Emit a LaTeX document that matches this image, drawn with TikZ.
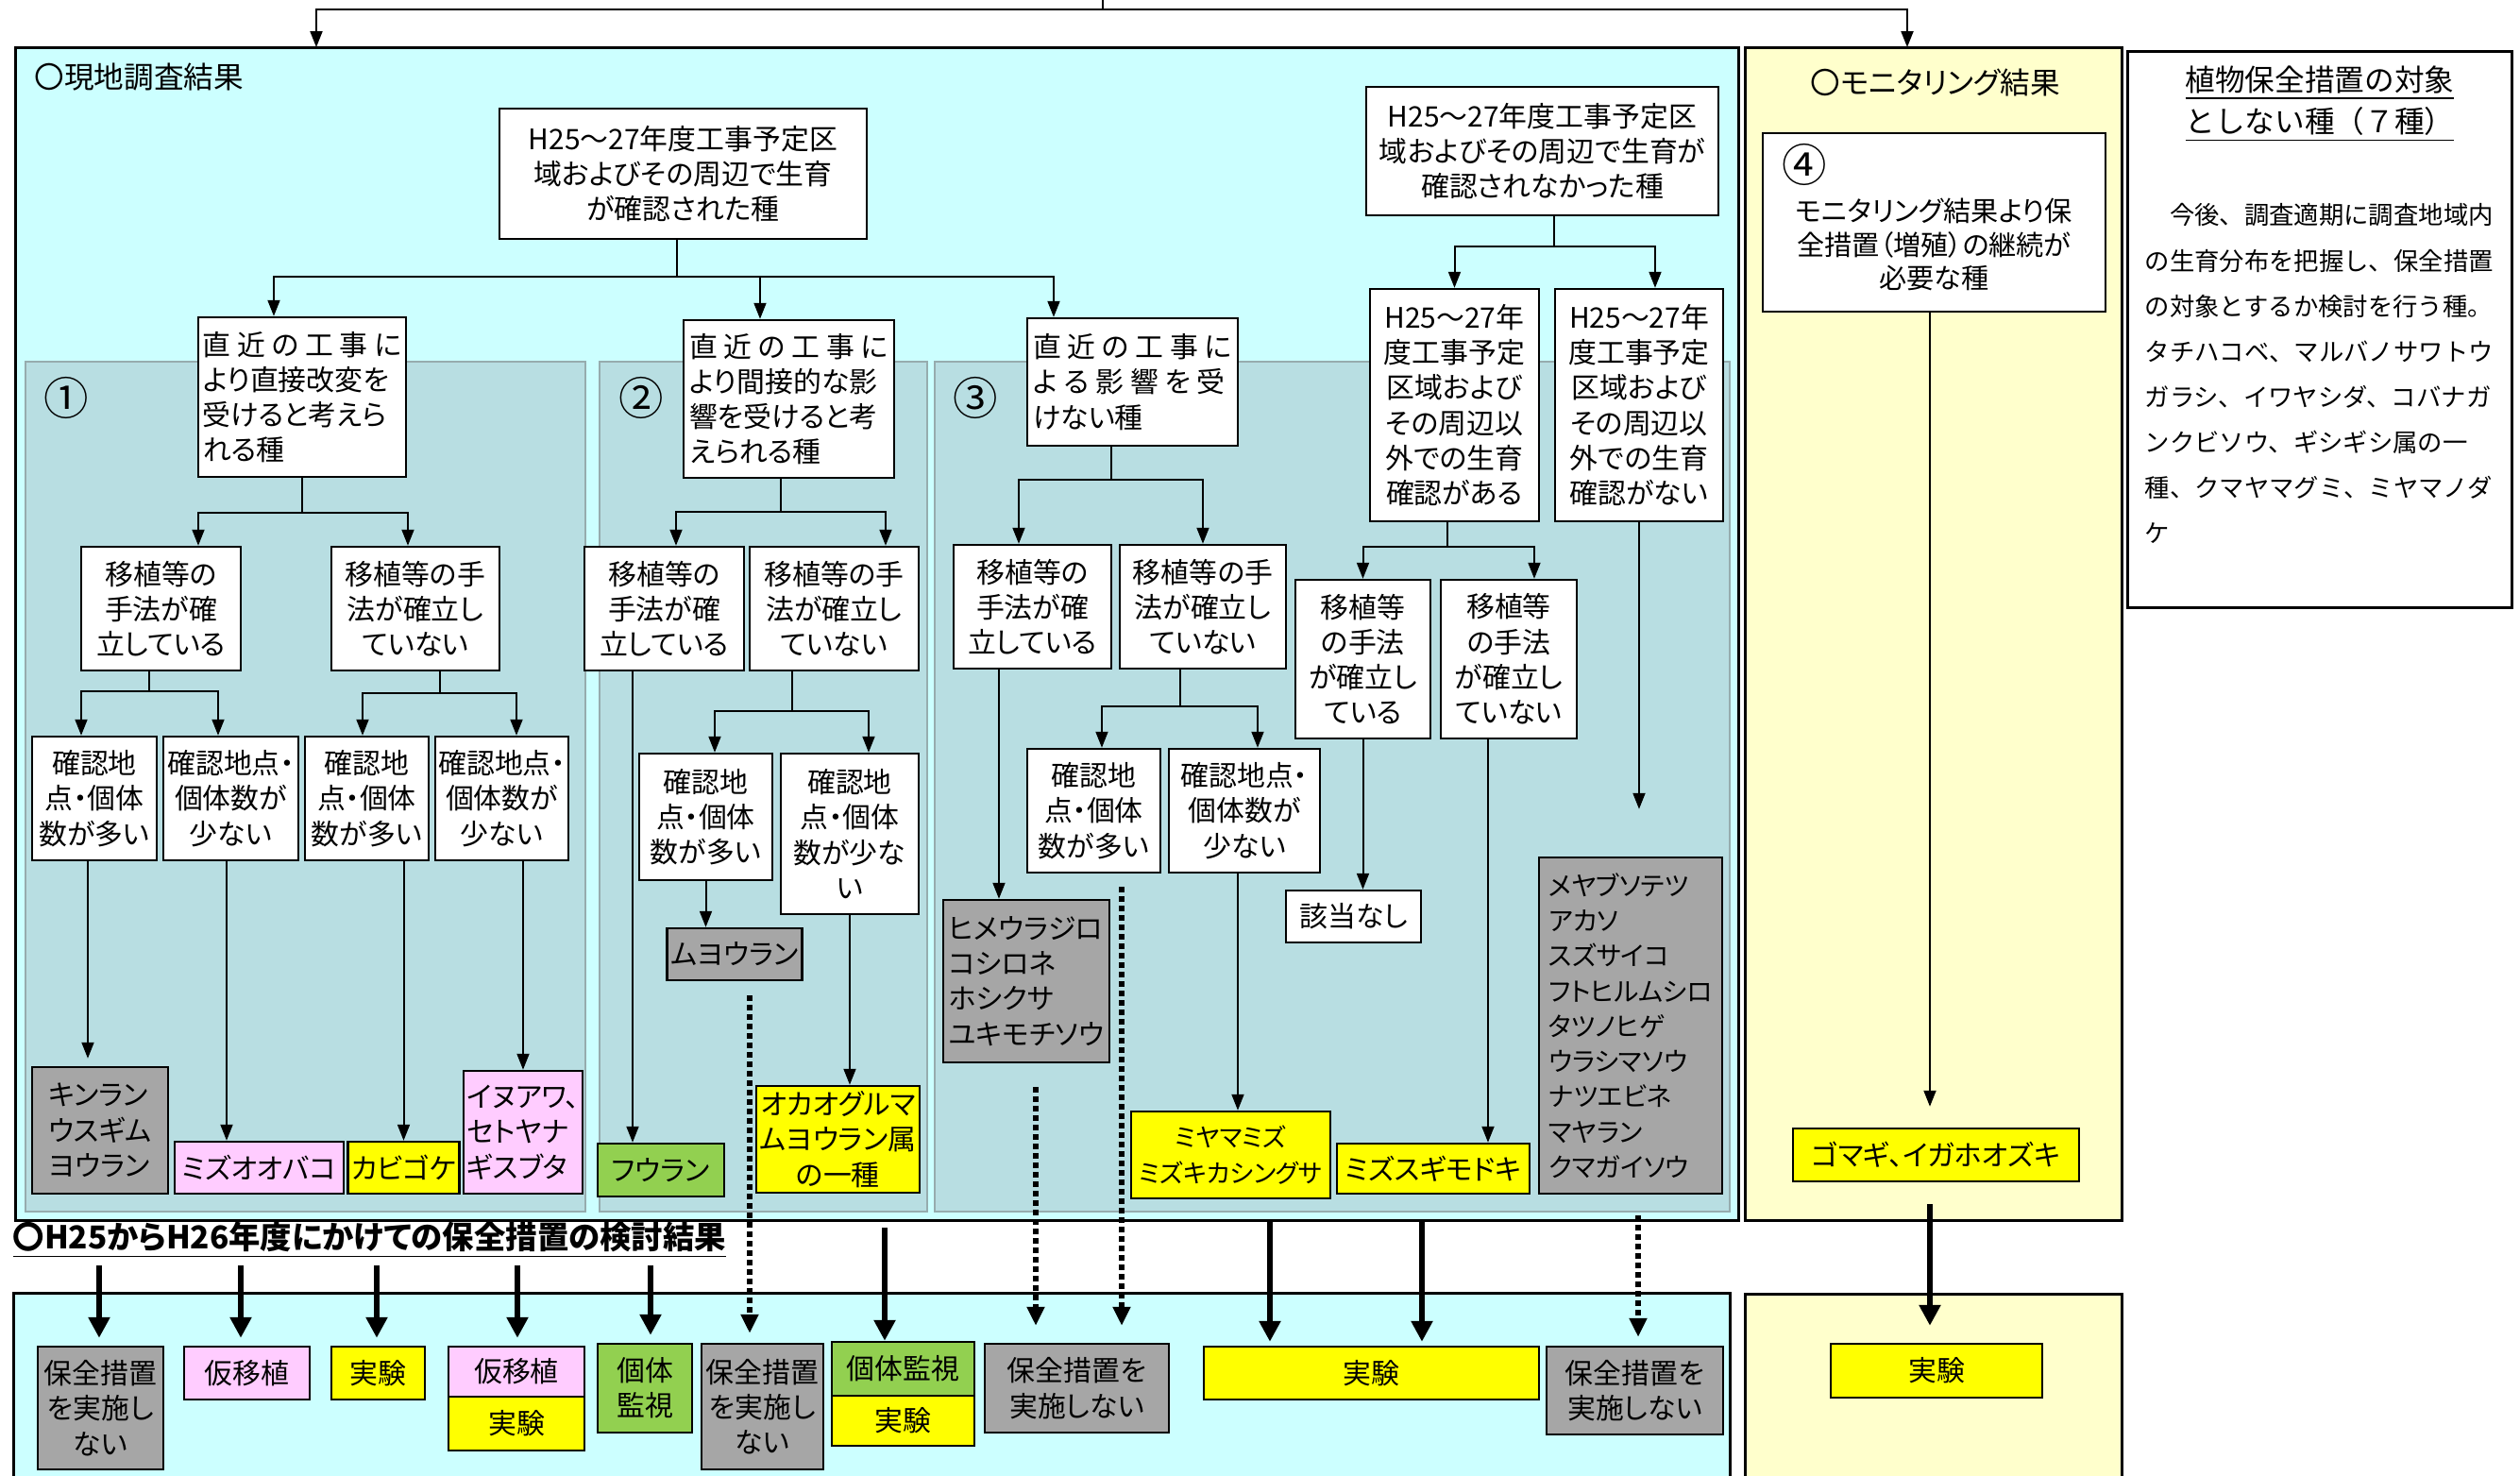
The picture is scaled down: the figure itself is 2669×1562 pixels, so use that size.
\documentclass[tikz,border=0pt]{standalone}
\usepackage{fontspec}
\setmainfont{Noto Sans CJK JP}[RawFeature={+palt}]
\newfontfamily\fullja{Noto Sans CJK JP}
\usetikzlibrary{arrows.meta}

\definecolor{cyanbg}{HTML}{CCFFFF}
\definecolor{tealbg}{RGB}{184,222,226}
\definecolor{tealline}{RGB}{150,172,174}
\definecolor{creambg}{HTML}{FFFFCC}
\definecolor{grayc}{HTML}{A6A6A6}
\definecolor{pinkc}{HTML}{FFCCFF}
\definecolor{yelc}{HTML}{FFFF00}
\definecolor{greenc}{HTML}{92D050}

\newcommand\boxfont{\fontsize{8.5}{10.6}\selectfont}

\begin{document}
\begin{tikzpicture}[x=0.1mm, y=-0.1mm,
    area/.style={draw, line width=0.3mm, inner sep=0pt},
    panel/.style={draw=tealline, line width=0.25mm, fill=tealbg, inner sep=0pt},
    box/.style={draw, line width=0.25mm, fill=white, inner sep=1pt, align=center, font=\boxfont},
    gbox/.style={box, fill=grayc},
    pbox/.style={box, fill=pinkc},
    ybox/.style={box, fill=yelc},
    lbox/.style={box, fill=greenc},
    sz/.style 2 args={minimum width=#1mm, minimum height=#2mm},
    arr/.style={line width=0.2mm, -{Triangle[length=1.7mm, width=1.3mm]}},
    bigarr/.style={line width=0.65mm, -{Triangle[length=2.2mm, width=2.2mm]}},
    dotarr/.style={line width=0.6mm, dash pattern=on 0.55mm off 0.45mm, -{Triangle[length=2mm, width=1.8mm]}},
    num/.style={font=\fontsize{13.5}{14}\selectfont, inner sep=0pt}]
  \useasboundingbox (0,0) rectangle (2669,1562);
  \clip (0,0) rectangle (2669,1562);
  \fill[white] (0,0) rectangle (2669,1562);

  % large areas
  \node[area, fill=cyanbg, sz={182.5}{124.2}] (genchi) at (928.5,671) {};
  \node[area, fill=creambg, sz={39.9}{124.2}] (moni) at (2047.5,671) {};
  \node[area, fill=white, sz={40.7}{58.9}] (taisho) at (2456.5,348.5) {};
  \node[area, fill=cyanbg, sz={181.8}{23.1}] (kekka) at (923,1484.5) {};
  \node[area, fill=creambg, sz={39.9}{23}] (moni2) at (2047.5,1485) {};
  \node[panel, sz={59.3}{90}] (p1) at (323.5,833) {};
  \node[panel, sz={34.7}{90}] (p2) at (808.5,833) {};
  \node[panel, sz={84.2}{90}] (p3) at (1411,833) {};

  % headings
  \node[anchor=north west, inner sep=0pt, font=\fontsize{9}{11}\selectfont] (genchit) at (36,66) {〇現地調査結果};
  \node[inner sep=0pt, font=\fontsize{9}{11}\selectfont] (monit) at (2050,87) {〇モニタリング結果};
  \node[anchor=north, align=center, inner sep=0pt, font=\fullja\fontsize{9}{12.5}\selectfont] (taishot) at (2457,69)
    {\underline{植物保全措置の対象}\\\underline{としない種（７種）}};
  \node[anchor=north west, align=left, inner sep=0pt, font=\fullja\fontsize{7.5}{13.7}\selectfont] (taishobody) at (2271,215)
    {　今後、調査適期に調査地域内\\の生育分布を把握し、保全措置\\の対象とするか検討を行う種。\\タチハコベ、マルバノサワトウ\\ガラシ、イワヤシダ、コバナガ\\ンクビソウ、ギシギシ属の一\\種、クマヤマグミ、ミヤマノダ\\ケ};
  \node[anchor=west, inner sep=0pt, font=\bfseries\fontsize{9.5}{11}\selectfont] (kentot) at (13,1313)
    {\underline{〇H25からH26年度にかけての保全措置の検討結果}};
  \node[num] (n1) at (70,421) {①};
  \node[num] (n2) at (679,421) {②};
  \node[num] (n3) at (1033,421) {③};

  % top source
  \coordinate (src) at (1168,0);
  \coordinate (inG) at (335,50);
  \coordinate (inM) at (2020,50);
  \draw[arr] (src) -- ++(0,10) -| (inG);
  \draw[arr] (src) -- ++(0,10) -| (inM);

  % survey tree
  \node[box, sz={38.9}{13.8}] (top1) at (723.5,184) {H25～27年度工事予定区\\域およびその周辺で生育\\が確認された種};
  \node[box, sz={37.3}{13.6}] (top2) at (1633.5,160) {H25～27年度工事予定区\\域およびその周辺で生育が\\確認されなかった種};
  \node[box, align=left, sz={22}{16.9}] (b1) at (320,420.5) {直 近 の 工 事 に\\より直接改変を\\受けると考えら\\れる種};
  \node[box, align=left, sz={22.3}{16.7}] (b2) at (835.5,422.5) {直 近 の 工 事 に\\より間接的な影\\響を受けると考\\えられる種};
  \node[box, align=left, sz={22.3}{13.5}] (b3) at (1199.5,404.5) {直 近 の 工 事 に\\よ る 影 響 を 受\\けない種};
  \node[box, sz={17.9}{24.6}] (aru) at (1540.5,429) {H25～27年\\度工事予定\\区域および\\その周辺以\\外での生育\\確認がある};
  \node[box, sz={17.8}{24.6}] (nai) at (1736,429) {H25～27年\\度工事予定\\区域および\\その周辺以\\外での生育\\確認がない};

  \node[box, sz={16.9}{13.1}] (a1) at (170.5,644.5) {移植等の\\手法が確\\立している};
  \node[box, sz={17.8}{13.1}] (a2) at (440,644.5) {移植等の手\\法が確立し\\ていない};
  \node[box, sz={16.9}{13.1}] (a3) at (703.5,644.5) {移植等の\\手法が確\\立している};
  \node[box, sz={17.9}{13.1}] (a4) at (883.5,644.5) {移植等の手\\法が確立し\\ていない};
  \node[box, sz={16.7}{13.1}] (a5) at (1093.5,642.5) {移植等の\\手法が確\\立している};
  \node[box, sz={17.6}{13.1}] (a6) at (1274,642.5) {移植等の手\\法が確立し\\ていない};
  \node[box, sz={14.3}{16.8}] (a7) at (1443.5,698) {移植等\\の手法\\が確立し\\ている};
  \node[box, sz={14.4}{16.8}] (a8) at (1598,698) {移植等\\の手法\\が確立し\\ていない};

  \node[box, sz={13.2}{13.1}] (k1) at (100,845.5) {確認地\\点・個体\\数が多い};
  \node[box, sz={14.3}{13.1}] (k2) at (244.5,845.5) {確認地点・\\個体数が\\少ない};
  \node[box, sz={13.1}{13.1}] (k3) at (388.5,845.5) {確認地\\点・個体\\数が多い};
  \node[box, sz={14.1}{13.1}] (k4) at (531.5,845.5) {確認地点・\\個体数が\\少ない};
  \node[box, sz={14.1}{13.4}] (k5) at (747.5,865) {確認地\\点・個体\\数が多い};
  \node[box, sz={14.6}{17}] (k6) at (900,883) {確認地\\点・個体\\数が少な\\い};
  \node[box, sz={14.1}{13.1}] (k7) at (1158.5,858.5) {確認地\\点・個体\\数が多い};
  \node[box, sz={16}{13.1}] (k8) at (1318,858.5) {確認地点・\\個体数が\\少ない};

  \node[gbox, align=left, sz={14.4}{13.4}] (s1) at (106,1197) {キンラン\\ウスギム\\ヨウラン};
  \node[pbox, sz={17.9}{5.5}] (s2) at (274.5,1236.5) {ミズオオバコ};
  \node[ybox, sz={11.5}{5.5}] (s3) at (427.5,1236.5) {カビゴケ};
  \node[pbox, align=left, sz={12.4}{13}] (s4) at (554,1199) {イヌアワ、\\セトヤナ\\ギスブタ};
  \node[lbox, sz={13.4}{5.6}] (s5) at (700,1239) {フウラン};
  \node[gbox, sz={14}{5.5}] (s6) at (778,1010.5) {ムヨウラン};
  \node[ybox, sz={17.1}{11.3}] (s7) at (887.5,1206.5) {オカオグルマ\\ムヨウラン属\\の一種};
  \node[gbox, align=left, sz={17.6}{17.2}] (s8) at (1087,1039) {ヒメウラジロ\\コシロネ\\ホシクサ\\ユキモチソウ};
  \node[box, sz={14.3}{5.5}] (s9) at (1433.5,970.5) {該当なし};
  \node[ybox, sz={21.1}{9.2}, font=\fontsize{7.6}{10.6}\selectfont] (s10) at (1303.5,1223) {ミヤマミズ\\ミズキカシングサ};
  \node[ybox, sz={20.4}{5.3}] (s11) at (1518,1237.5) {ミズスギモドキ};
  \node[gbox, align=left, sz={19.4}{35.6}, font=\fontsize{7.9}{10.6}\selectfont] (s12) at (1727,1086) {メヤブソテツ\\アカソ\\スズサイコ\\フトヒルムシロ\\タツノヒゲ\\ウラシマソウ\\ナツエビネ\\マヤラン\\クマガイソウ};

  \draw[arr] ([xshift=-0.65mm]top1.south) -- ++(0,39) -| ([xshift=-3mm]b1.north);
  \draw[arr] ([xshift=-0.65mm]top1.south) -- ++(0,39) -| ([xshift=-3.05mm]b2.north);
  \draw[arr] ([xshift=-0.65mm]top1.south) -- ++(0,39) -| ([xshift=-8.35mm]b3.north);
  \draw[arr] ([xshift=1.25mm]top2.south) -- ++(0,32) -| (aru.north);
  \draw[arr] ([xshift=1.25mm]top2.south) -- ++(0,32) -| ([xshift=1.7mm]nai.north);

  \draw[arr] (b1.south) -- ++(0,37) -| ([xshift=3.95mm]a1.north);
  \draw[arr] (b1.south) -- ++(0,37) -| ([xshift=-0.8mm]a2.north);
  \draw[arr] ([xshift=-0.85mm]b2.south) -- ++(0,35) -| ([xshift=1.25mm]a3.north);
  \draw[arr] ([xshift=-0.85mm]b2.south) -- ++(0,35) -| ([xshift=5.45mm]a4.north);
  \draw[arr] ([xshift=-2.25mm]b3.south) -- ++(0,35) -| ([xshift=-1.45mm]a5.north);
  \draw[arr] ([xshift=-2.25mm]b3.south) -- ++(0,35) -| (a6.north);
  \draw[arr] ([xshift=-0.75mm]aru.south) -- ++(0,26) -| (a7.north);
  \draw[arr] ([xshift=-0.75mm]aru.south) -- ++(0,26) -| ([xshift=2.7mm]a8.north);

  \draw[arr] ([xshift=-1.25mm]a1.south) -- ++(0,21) -| ([xshift=-1.4mm]k1.north);
  \draw[arr] ([xshift=-1.25mm]a1.south) -- ++(0,21) -| ([xshift=-1.35mm]k2.north);
  \draw[arr] ([xshift=2.6mm]a2.south) -- ++(0,23) -| ([xshift=-0.45mm]k3.north);
  \draw[arr] ([xshift=2.6mm]a2.south) -- ++(0,23) -| ([xshift=1.55mm]k4.north);
  \draw[arr] ([xshift=-4.45mm]a4.south) -- ++(0,42) -| ([xshift=0.95mm]k5.north);
  \draw[arr] ([xshift=-4.45mm]a4.south) -- ++(0,42) -| ([xshift=2mm]k6.north);
  \draw[arr] ([xshift=-2.4mm]a6.south) -- ++(0,39) -| ([xshift=0.85mm]k7.north);
  \draw[arr] ([xshift=-2.4mm]a6.south) -- ++(0,39) -| ([xshift=1.4mm]k8.north);

  \draw[arr, shorten >=0.8mm] ([xshift=-0.7mm]k1.south) -- ([xshift=-0.7mm]k1.south |- s1.north);
  \draw[arr] ([xshift=-0.45mm]k2.south) -- ([xshift=-0.45mm]k2.south |- s2.north);
  \draw[arr] (k3.south -| s3.north) -- (s3.north);
  \draw[arr] (k4.south -| s4.north) -- (s4.north);
  \draw[arr] ([xshift=-3.35mm]a3.south) -- ([xshift=-3.35mm]a3.south |- s5.north);
  \draw[arr] (k5.south) -- (k5.south |- s6.north);
  \draw[arr] (k6.south) -- (k6.south |- s7.north);
  \draw[arr] ([xshift=-3.55mm]a5.south) -- ([xshift=-3.55mm]a5.south |- s8.north);
  \draw[arr] (a7.south) -- (a7.south |- s9.north);
  \draw[arr] ([xshift=-0.7mm]k8.south) -- ([xshift=-0.7mm]k8.south |- s10.north);
  \draw[arr] ([xshift=-2.2mm]a8.south) -- ([xshift=-2.2mm]a8.south |- s11.north);
  \draw[arr, shorten >=5mm] (nai.south) -- (nai.south |- s12.north);

  % monitoring
  \node[draw, line width=0.25mm, fill=white, sz={36.3}{18.9}] (mon4) at (2048.5,235.5) {};
  \node[num] (n4) at (1911,174) {④};
  \node[align=center, inner sep=0pt, font=\fontsize{8.3}{10.2}\selectfont] (mon4t) at (2048.5,259)
    {モニタリング結果より保\\全措置（増殖）の継続が\\必要な種};
  \node[ybox, sz={30.3}{5.6}] (s13) at (2050.5,1223) {ゴマギ、イガホオズキ};
  \draw[arr, shorten >=2.2mm] ([xshift=-0.45mm]mon4.south) -- ([xshift=-0.45mm]mon4.south |- s13.north);

  % results
  \node[gbox, sz={13.3}{13}] (r1) at (106.5,1491) {保全措置\\を実施し\\ない};
  \node[pbox, sz={13.3}{5.6}] (r2) at (261.5,1454) {仮移植};
  \node[ybox, sz={9.9}{5.6}] (r3) at (400.5,1454) {実験};
  \node[pbox, sz={14.4}{5.3}] (r4a) at (547,1452.5) {仮移植};
  \node[ybox, sz={14.4}{5.7}] (r4b) at (547,1507.5) {実験};
  \node[lbox, sz={10}{9.4}] (r5) at (683,1470) {個体\\監視};
  \node[gbox, sz={12.9}{13.3}] (r6) at (807.5,1489.5) {保全措置\\を実施し\\ない};
  \node[lbox, sz={15.1}{5.7}] (r7a) at (956.5,1449.5) {個体監視};
  \node[ybox, sz={15.1}{5.3}] (r7b) at (956.5,1504.5) {実験};
  \node[gbox, sz={19.5}{9.4}] (r8) at (1140.5,1470) {保全措置を\\実施しない};
  \node[ybox, sz={35.5}{5.6}] (r9) at (1452.5,1454) {実験};
  \node[gbox, sz={18.7}{9.3}] (r10) at (1731.5,1472.5) {保全措置を\\実施しない};
  \node[ybox, sz={22.4}{5.7}] (r11) at (2051,1451.5) {実験};

  \foreach \xx/\dst in {105/r1, 255/r2, 399/r3, 548/r4a, 689/r5}{
    \coordinate (q\dst) at (\xx,1340);
    \draw[bigarr, shorten >=0.8mm] (q\dst) -- (q\dst |- \dst.north);
  }
  \coordinate (q7) at (937,1300);
  \coordinate (q9a) at (1345,1292);
  \coordinate (q9b) at (1506,1292);
  \coordinate (q11) at (2044,1275);
  \draw[bigarr] (q7) -- (q7 |- r7a.north);
  \draw[bigarr, shorten >=0.4mm] (q9a) -- (q9a |- r9.north);
  \draw[bigarr, shorten >=0.4mm] (q9b) -- (q9b |- r9.north);
  \draw[bigarr, shorten >=1.8mm] (q11) -- (q11 |- r11.north);

  \coordinate (d6) at (794,1054);
  \coordinate (d8a) at (1097,1151);
  \coordinate (d8b) at (1188,939);
  \coordinate (d10) at (1735,1287);
  \draw[dotarr, shorten >=1mm] (d6) -- (d6 |- r6.north);
  \draw[dotarr, shorten >=1.8mm] (d8a) -- (d8a |- r8.north);
  \draw[dotarr, shorten >=1.8mm] (d8b) -- (d8b |- r8.north);
  \draw[dotarr, shorten >=0.9mm] (d10) -- (d10 |- r10.north);
\end{tikzpicture}
\end{document}
